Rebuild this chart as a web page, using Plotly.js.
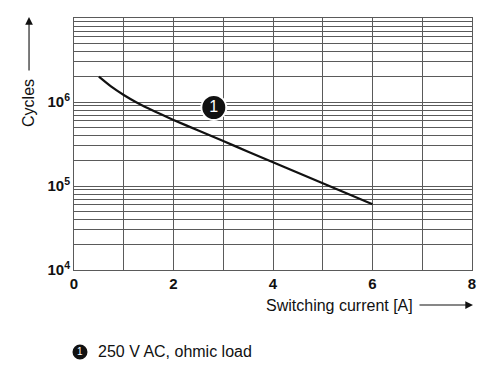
<!DOCTYPE html>
<html>
<head>
<meta charset="utf-8">
<script src="https://cdn.plot.ly/plotly-3.0.1.min.js"></script>
<style>html,body{margin:0;padding:0;background:#fff;}#chart{width:500px;height:377px;}</style>
</head>
<body>
<div id="chart"></div>
<script>
// Data
const currentA = [0.5, 0.75, 1, 1.25, 1.5, 1.75, 2, 2.5, 3, 3.5, 4, 4.5, 5, 5.5, 6];
const cycles = [2.0e6, 1.52e6, 1.21e6, 9.93e5, 8.36e5, 7.13e5, 6.12e5, 4.57e5, 3.43e5, 2.56e5, 1.92e5, 1.44e5, 1.08e5, 8.07e4, 6.05e4];
const labelX = [2.81];
const labelY = [8.6e5];
const labelText = ["1"];
const xTickVals = [0, 1, 2, 3, 4, 5, 6, 7, 8];
const xTickText = ["0", "", "2", "", "4", "", "6", "", "8"];
const yDecades = [1e4, 1e5, 1e6];
const legendText = "250 V AC, ohmic load";
const xTitle = "Switching current [A]";
const yTitle = "Cycles";

// build log grid ticks
const yTickVals = [];
const yTickText = [];
yDecades.forEach(d => {
  for (let m = 1; m <= 9; m++) {
    yTickVals.push(d * m);
    const exp = Math.round(Math.log10(d));
    yTickText.push(m === 1 ? "<b>10<sup>" + exp + "</sup></b>" : "");
  }
});
yTickVals.push(1e7); yTickText.push("");

const font = "Liberation Sans, Arial, sans-serif";
const gridColor = "#5a5a5a";

const traces = [
  {x: currentA, y: cycles, mode: "lines", line: {color: "#111", width: 2.2, shape: "spline", smoothing: 0.6}, hoverinfo: "skip"},
  {x: labelX, y: labelY, mode: "markers+text", text: labelText, textposition: "middle center",
   textfont: {color: "#fff", size: 16, family: font},
   marker: {size: 25, color: "#111", line: {color: "#fff", width: 2}}, hoverinfo: "skip"}
];

const layout = {
  width: 500, height: 377,
  margin: {l: 74, r: 28, t: 18, b: 107},
  paper_bgcolor: "#fff", plot_bgcolor: "#fff",
  showlegend: false,
  xaxis: {
    range: [0, 8], tickmode: "array", tickvals: xTickVals,
    ticktext: xTickText.map(t => t ? "<b>" + t + "</b>" : ""),
    showgrid: true, gridcolor: gridColor, gridwidth: 1,
    showline: true, mirror: true, linecolor: gridColor, linewidth: 1,
    zeroline: false, ticks: "", tickfont: {family: font, size: 15, color: "#111"}
  },
  yaxis: {
    type: "log", range: [4, 7], tickmode: "array", tickvals: yTickVals, ticktext: yTickText,
    showgrid: true, gridcolor: gridColor, gridwidth: 1,
    showline: true, mirror: true, linecolor: gridColor, linewidth: 1,
    zeroline: false, ticks: "", tickfont: {family: font, size: 15, color: "#111"}
  },
  shapes: [
    {type: "circle", xref: "paper", yref: "paper", x0: -0.0038, x1: 0.0339, y0: -0.355, y1: -0.2956,
     fillcolor: "#111", line: {color: "#111", width: 0}}
  ],
  annotations: [
    {xref: "paper", yref: "paper", x: 0.667, y: -0.139, text: xTitle, showarrow: false,
     font: {family: font, size: 16, color: "#111"}, xanchor: "center", yanchor: "middle"},
    {xref: "paper", yref: "paper", x: 1.0025, y: -0.139, text: "", showarrow: true,
     axref: "pixel", ayref: "pixel", ax: -55, ay: 0, arrowhead: 2, arrowsize: 1.4, arrowwidth: 1.1, arrowcolor: "#111", standoff: 0},
    {xref: "paper", yref: "paper", x: -0.113, y: 0.663, text: yTitle, showarrow: false, textangle: -90,
     font: {family: font, size: 16, color: "#111"}, xanchor: "center", yanchor: "middle"},
    {xref: "paper", yref: "paper", x: -0.113, y: 1.004, text: "", showarrow: true,
     axref: "pixel", ayref: "pixel", ax: 0, ay: 55, arrowhead: 2, arrowsize: 1.4, arrowwidth: 1.1, arrowcolor: "#111", standoff: 0},
    {xref: "paper", yref: "paper", x: 0.015, y: -0.325, text: "1", showarrow: false,
     font: {family: font, size: 10, color: "#fff"}, xanchor: "center", yanchor: "middle"},
    {xref: "paper", yref: "paper", x: 0.0553, y: -0.325, text: legendText, showarrow: false,
     font: {family: font, size: 16, color: "#111"}, xanchor: "left", yanchor: "middle"}
  ]
};

Plotly.newPlot("chart", traces, layout, {staticPlot: true, displayModeBar: false});
</script>
</body>
</html>
